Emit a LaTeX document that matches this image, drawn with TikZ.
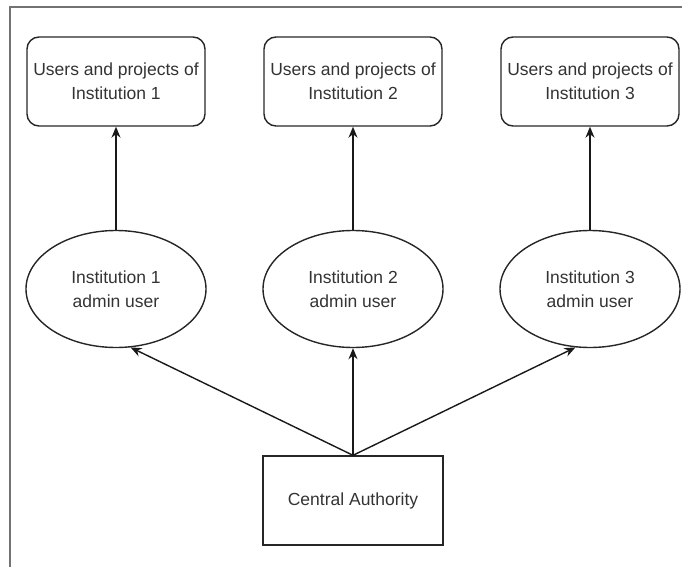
\documentclass[tikz,border=0pt]{standalone}
\usepackage{fontspec}
\setmainfont{Liberation Sans}
\usetikzlibrary{shapes.geometric,arrows.meta}
\begin{document}
\begin{tikzpicture}[x=1pt,y=-1pt,
  every node/.style={font=\fontsize{17.5}{24}\selectfont, text=black!80, align=center},
  rbox/.style={draw=black!85, line width=1.4pt, rounded corners=12pt, minimum width=178pt, minimum height=89pt, inner sep=0pt},
  ebox/.style={draw=black!85, line width=1.4pt, ellipse, minimum width=180pt, minimum height=117pt, inner sep=0pt},
  sbox/.style={draw=black!85, line width=1.4pt, minimum width=180pt, minimum height=89pt, inner sep=0pt},
  arr/.style={draw=black!90, line width=1.4pt, -{Stealth[length=11pt,width=9pt]}},
  frame/.style={draw=black!55, line width=1.2pt}]
\useasboundingbox (0,0) rectangle (682,567);
\coordinate (fa) at (10,567);
\coordinate (fb) at (10,7);
\coordinate (fc) at (682,7);
\draw[frame] (fa) -- (fb) -- (fc);
\node[rbox] (u1) at (116,81.5) {Users and projects of\\Institution 1};
\node[rbox] (u2) at (353,81.5) {Users and projects of\\Institution 2};
\node[rbox] (u3) at (590,81.5) {Users and projects of\\Institution 3};
\node[ebox] (e1) at (116,289) {Institution 1\\admin user};
\node[ebox] (e2) at (353,289) {Institution 2\\admin user};
\node[ebox] (e3) at (590,289) {Institution 3\\admin user};
\node[sbox] (ca) at (353,500.5) {Central Authority};
\draw[arr] (e1) -- (u1);
\draw[arr] (e2) -- (u2);
\draw[arr] (e3) -- (u3);
\draw[arr] (ca.north) -- (e1.-76);
\draw[arr] (ca.north) -- (e2.south);
\draw[arr] (ca.north) -- (e3.-104);
\end{tikzpicture}
\end{document}
